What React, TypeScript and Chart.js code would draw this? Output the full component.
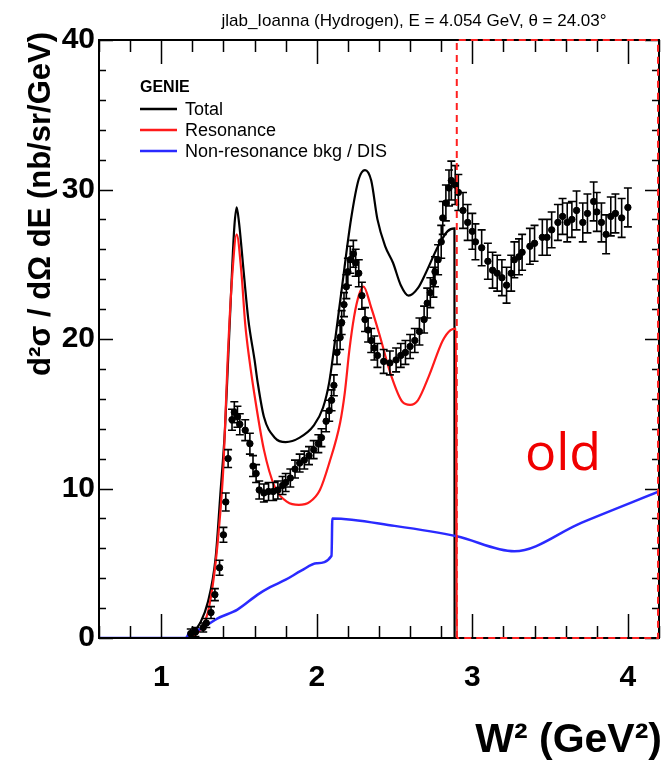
import React, { useEffect, useRef } from 'react';
import { Chart, registerables } from 'chart.js';

Chart.register(...registerables);

const TITLE = 'jlab_Ioanna (Hydrogen), E = 4.054 GeV, \u03B8 = 24.03\u00B0';
const X_LABEL = 'W\u00B2 (GeV\u00B2)';
const Y_LABEL = 'd\u00B2\u03C3 / d\u03A9 dE (nb/sr/GeV)';
const LEGEND_HEADER = 'GENIE';
const SERIES_NAMES = ['Total', 'Resonance', 'Non-resonance bkg / DIS'];
const SERIES_COLORS = ['#000000', '#ff1a1a', '#2a2aff'];
const NOTE_TEXT = 'old';

const X_MIN = 0.6;
const X_MAX = 4.2;
const Y_MIN = 0;
const Y_MAX = 40;
const X_TICKS = [1, 2, 3, 4];
const Y_TICKS = [0, 10, 20, 30, 40];
const CUT_W2 = 2.9;

// Measured data points
const dataW2 = [1.19, 1.22, 1.27, 1.29, 1.32, 1.345, 1.375, 1.40, 1.415, 1.43, 1.455, 1.47, 1.49, 1.505, 1.54, 1.57, 1.59, 1.61, 1.63, 1.66, 1.69, 1.72, 1.75, 1.78, 1.80, 1.83, 1.86, 1.89, 1.92, 1.95, 1.98, 2.01, 2.03, 2.06, 2.08, 2.095, 2.11, 2.13, 2.15, 2.16, 2.175, 2.19, 2.20, 2.215, 2.235, 2.25, 2.27, 2.29, 2.31, 2.33, 2.35, 2.37, 2.39, 2.43, 2.47, 2.51, 2.54, 2.57, 2.60, 2.63, 2.66, 2.69, 2.71, 2.73, 2.75, 2.76, 2.78, 2.80, 2.81, 2.83, 2.85, 2.865, 2.89, 2.91, 2.94, 2.97, 3.00, 3.02, 3.06, 3.10, 3.13, 3.16, 3.19, 3.22, 3.25, 3.27, 3.30, 3.32, 3.37, 3.40, 3.45, 3.48, 3.51, 3.55, 3.58, 3.61, 3.64, 3.67, 3.71, 3.74, 3.78, 3.80, 3.83, 3.86, 3.89, 3.92, 3.96, 4.00];
const dataXsec = [0.3, 0.4, 0.7, 1.0, 1.7, 2.9, 4.7, 6.9, 9.1, 12.0, 14.6, 15.1, 14.8, 14.3, 13.9, 13.0, 11.5, 11.0, 9.9, 9.7, 9.8, 9.8, 9.9, 10.2, 10.4, 10.7, 11.3, 11.7, 11.9, 12.2, 12.6, 13.0, 13.4, 14.5, 15.2, 15.9, 16.9, 19.1, 20.1, 21.1, 22.3, 23.5, 24.5, 25.3, 25.7, 25.1, 24.4, 22.9, 21.3, 20.6, 19.9, 19.4, 18.9, 18.5, 18.4, 18.6, 18.9, 19.1, 19.5, 19.9, 20.5, 21.3, 22.4, 23.1, 23.8, 24.5, 25.3, 26.5, 28.1, 29.1, 30.1, 30.6, 30.3, 29.8, 28.6, 27.8, 27.2, 26.5, 26.1, 25.2, 24.6, 24.4, 24.1, 23.6, 24.4, 25.3, 25.5, 25.8, 26.2, 26.4, 26.8, 26.8, 27.3, 27.8, 28.2, 27.8, 28.0, 28.6, 27.8, 28.4, 29.2, 28.5, 27.8, 27.0, 28.2, 28.4, 28.1, 28.8];
const dataErr = [0.3, 0.3, 0.3, 0.3, 0.4, 0.4, 0.5, 0.5, 0.6, 0.6, 0.7, 0.7, 0.7, 0.7, 0.7, 0.7, 0.7, 0.6, 0.6, 0.6, 0.6, 0.6, 0.6, 0.6, 0.6, 0.6, 0.6, 0.6, 0.6, 0.6, 0.6, 0.6, 0.6, 0.7, 0.7, 0.7, 0.7, 0.8, 0.8, 0.8, 0.8, 0.8, 0.9, 0.9, 0.9, 0.9, 0.9, 0.9, 0.8, 0.8, 0.8, 0.8, 0.8, 0.8, 0.8, 0.8, 0.8, 0.8, 0.8, 0.8, 0.9, 0.9, 1.0, 1.0, 1.0, 1.0, 1.0, 1.1, 1.1, 1.2, 1.2, 1.3, 1.3, 1.2, 1.2, 1.2, 1.2, 1.2, 1.2, 1.2, 1.2, 1.2, 1.2, 1.2, 1.2, 1.2, 1.2, 1.2, 1.2, 1.2, 1.2, 1.2, 1.2, 1.2, 1.2, 1.3, 1.2, 1.3, 1.3, 1.3, 1.3, 1.3, 1.3, 1.3, 1.3, 1.3, 1.3, 1.3, 1.3];

// GENIE Total
const totalW2 = [0.6, 1.15, 1.2, 1.25, 1.3, 1.35, 1.38, 1.41, 1.43, 1.455, 1.47, 1.485, 1.5, 1.53, 1.56, 1.6, 1.62, 1.66, 1.73, 1.8, 1.89, 1.98, 2.04, 2.08, 2.11, 2.16, 2.22, 2.27, 2.31, 2.35, 2.39, 2.44, 2.49, 2.54, 2.59, 2.65, 2.7, 2.78, 2.84, 2.885, 2.886, 2.9];
const totalXsec = [0, 0, 0.3, 1.0, 2.4, 5.4, 9.6, 14.0, 18.6, 24.5, 27.5, 28.8, 27.8, 24.5, 21.3, 18.6, 17.1, 14.8, 13.4, 13.1, 13.4, 14.2, 15.4, 17.1, 19.3, 23.3, 28.0, 30.7, 31.3, 30.6, 28.0, 26.2, 25.1, 23.6, 22.9, 23.4, 24.4, 26.2, 27.2, 27.4, 0, 0];

// GENIE Resonance
const resW2 = [0.6, 1.18, 1.22, 1.26, 1.3, 1.34, 1.37, 1.4, 1.427, 1.455, 1.485, 1.515, 1.54, 1.567, 1.605, 1.66, 1.73, 1.81, 1.885, 1.955, 2.02, 2.08, 2.15, 2.18, 2.21, 2.24, 2.27, 2.3, 2.35, 2.4, 2.48, 2.55, 2.6, 2.65, 2.72, 2.81, 2.86, 2.895, 2.9, 4.2];
const resXsec = [0, 0, 0.2, 0.7, 1.7, 4.2, 7.2, 11.5, 18.6, 24.0, 27.0, 24.5, 21.0, 18.6, 15.9, 12.6, 10.1, 9.1, 8.9, 9.1, 9.9, 11.7, 14.4, 16.4, 19.3, 21.5, 22.9, 23.5, 22.1, 20.4, 17.5, 15.8, 15.6, 15.9, 17.5, 19.9, 20.6, 20.7, 0, 0];

// GENIE Non-resonance bkg / DIS
const bkgW2 = [0.6, 1.16, 1.18, 1.2, 1.25, 1.3, 1.36, 1.49, 1.62, 1.7, 1.8, 1.9, 2.0, 2.095, 2.1, 2.5, 2.9, 3.27, 3.7, 4.2];
const bkgXsec = [0, 0, 0.35, 0.4, 0.6, 0.9, 1.3, 1.9, 2.9, 3.4, 3.9, 4.5, 5.0, 5.5, 8.0, 7.5, 6.8, 5.8, 7.7, 9.8];

const FONT = '"Liberation Sans", Arial, Helvetica, sans-serif';

const toPts = (xs: number[], ys: number[]) => xs.map((x, i) => ({ x, y: ys[i] }));

const rootPlugin = {
  id: 'rootStyle',
  afterDatasetsDraw(chart: any) {
    const { ctx, chartArea: a, scales } = chart;
    const xs = scales.x;
    const ys = scales.y;
    ctx.save();
    // error bars
    ctx.strokeStyle = '#000';
    ctx.lineWidth = 1.6;
    ctx.beginPath();
    dataW2.forEach((w, i) => {
      const px = xs.getPixelForValue(w);
      const lo = ys.getPixelForValue(Math.max(0, dataXsec[i] - dataErr[i]));
      const hi = ys.getPixelForValue(dataXsec[i] + dataErr[i]);
      ctx.moveTo(px, lo);
      ctx.lineTo(px, hi);
      ctx.moveTo(px - 4, lo);
      ctx.lineTo(px + 4, lo);
      ctx.moveTo(px - 4, hi);
      ctx.lineTo(px + 4, hi);
    });
    ctx.stroke();

    // frame
    ctx.lineWidth = 2;
    ctx.strokeStyle = '#000';
    ctx.strokeRect(a.left, a.top, a.right - a.left, a.bottom - a.top);

    // ticks (inward, all four sides)
    ctx.lineWidth = 1.5;
    ctx.beginPath();
    for (let k = Math.ceil(X_MIN * 5); k <= Math.floor(X_MAX * 5); k++) {
      const v = k / 5;
      const px = Math.round(xs.getPixelForValue(v)) + 0.5;
      const len = k % 5 === 0 ? 24 : 12;
      ctx.moveTo(px, a.bottom);
      ctx.lineTo(px, a.bottom - len);
      ctx.moveTo(px, a.top);
      ctx.lineTo(px, a.top + len);
    }
    for (let k = 0; k <= 20; k++) {
      const v = k * 2;
      const py = Math.round(ys.getPixelForValue(v)) + 0.5;
      const len = k % 5 === 0 ? 14 : 7;
      ctx.moveTo(a.left, py);
      ctx.lineTo(a.left + len, py);
      ctx.moveTo(a.right, py);
      ctx.lineTo(a.right - len, py);
    }
    ctx.stroke();

    // red dashed box (old region)
    const cx = xs.getPixelForValue(CUT_W2);
    ctx.strokeStyle = '#ff2020';
    ctx.lineWidth = 2;
    ctx.setLineDash([7, 5]);
    ctx.beginPath();
    ctx.moveTo(cx, ys.getPixelForValue(Y_MIN));
    ctx.lineTo(cx, ys.getPixelForValue(Y_MAX));
    ctx.lineTo(a.right - 1, ys.getPixelForValue(Y_MAX));
    ctx.lineTo(a.right - 1, ys.getPixelForValue(Y_MIN));
    ctx.lineTo(cx, ys.getPixelForValue(Y_MIN));
    ctx.stroke();
    ctx.setLineDash([]);
    ctx.restore();
  },
  afterDraw(chart: any) {
    const { ctx, chartArea: a } = chart;
    ctx.save();
    ctx.fillStyle = '#000';
    // title
    ctx.font = `17px ${FONT}`;
    ctx.textAlign = 'center';
    ctx.textBaseline = 'alphabetic';
    ctx.fillText(TITLE, 414, 26);

    // y title
    ctx.save();
    ctx.translate(50, 32);
    ctx.rotate(-Math.PI / 2);
    ctx.font = `bold 31px ${FONT}`;
    ctx.textAlign = 'right';
    ctx.textBaseline = 'alphabetic';
    ctx.fillText(Y_LABEL, 0, 0);
    ctx.restore();

    // x title
    ctx.font = `bold 41px ${FONT}`;
    ctx.textAlign = 'right';
    ctx.fillText(X_LABEL, 662, 752);

    // legend
    ctx.textAlign = 'left';
    ctx.textBaseline = 'middle';
    ctx.font = `bold 16px ${FONT}`;
    ctx.fillText(LEGEND_HEADER, a.left + 41, 88);
    ctx.font = `18px ${FONT}`;
    SERIES_NAMES.forEach((name, i) => {
      const y = 109 + i * 21;
      ctx.strokeStyle = SERIES_COLORS[i];
      ctx.lineWidth = 2.5;
      ctx.beginPath();
      ctx.moveTo(a.left + 41, y);
      ctx.lineTo(a.left + 78, y);
      ctx.stroke();
      ctx.fillStyle = '#000';
      ctx.fillText(name, a.left + 86, y + 1);
    });

    // "old" note
    ctx.fillStyle = '#f00000';
    ctx.font = `52px "Open Sans", ${FONT}`;
    ctx.textAlign = 'center';
    ctx.textBaseline = 'alphabetic';
    ctx.fillText(NOTE_TEXT, 563, 470);
    ctx.restore();
  },
};

export default function App() {
  const ref = useRef<HTMLCanvasElement | null>(null);
  useEffect(() => {
    document.body.style.margin = '0';
    const canvas = ref.current;
    if (!canvas) return;
    const chart = new Chart(canvas, {
      type: 'scatter',
      data: {
        datasets: [
          {
            label: 'Data',
            data: toPts(dataW2, dataXsec),
            showLine: false,
            pointRadius: 3.2,
            pointBackgroundColor: '#000',
            pointBorderColor: '#000',
            order: 0,
          },
          {
            label: SERIES_NAMES[2],
            data: toPts(bkgW2, bkgXsec),
            showLine: true,
            borderColor: SERIES_COLORS[2],
            borderWidth: 2.5,
            pointRadius: 0,
            cubicInterpolationMode: 'monotone',
            order: 1,
          },
          {
            label: SERIES_NAMES[1],
            data: toPts(resW2, resXsec),
            showLine: true,
            borderColor: SERIES_COLORS[1],
            borderWidth: 2.2,
            pointRadius: 0,
            cubicInterpolationMode: 'monotone',
            order: 2,
          },
          {
            label: SERIES_NAMES[0],
            data: toPts(totalW2, totalXsec),
            showLine: true,
            borderColor: SERIES_COLORS[0],
            borderWidth: 2.2,
            pointRadius: 0,
            cubicInterpolationMode: 'monotone',
            order: 3,
          },
        ],
      },
      options: {
        animation: false,
        responsive: true,
        maintainAspectRatio: false,
        layout: { padding: { top: 40, right: 1, left: 0, bottom: 0 } },
        plugins: { legend: { display: false }, tooltip: { enabled: false }, title: { display: false } },
        scales: {
          x: {
            type: 'linear',
            min: X_MIN,
            max: X_MAX,
            grid: { display: false, drawTicks: false },
            border: { display: false },
            afterBuildTicks: (s: any) => {
              s.ticks = X_TICKS.map((v) => ({ value: v }));
            },
            afterFit: (s: any) => {
              s.height = 125;
            },
            ticks: {
              color: '#000',
              padding: 22,
              maxRotation: 0,
              font: { family: FONT, size: 30, weight: 'bold' },
              callback: (v: any) => String(v),
            },
          },
          y: {
            type: 'linear',
            min: Y_MIN,
            max: Y_MAX,
            grid: { display: false, drawTicks: false },
            border: { display: false },
            afterBuildTicks: (s: any) => {
              s.ticks = Y_TICKS.map((v) => ({ value: v }));
            },
            afterFit: (s: any) => {
              s.width = 99;
            },
            ticks: {
              color: '#000',
              padding: 4,
              font: { family: FONT, size: 30, weight: 'bold' },
              callback: (v: any) => String(v),
            },
          },
        },
      },
      plugins: [rootPlugin],
    });
    return () => chart.destroy();
  }, []);
  return (
    <div style={{ width: 664, height: 763, position: 'relative' }}>
      <canvas ref={ref} />
    </div>
  );
}
